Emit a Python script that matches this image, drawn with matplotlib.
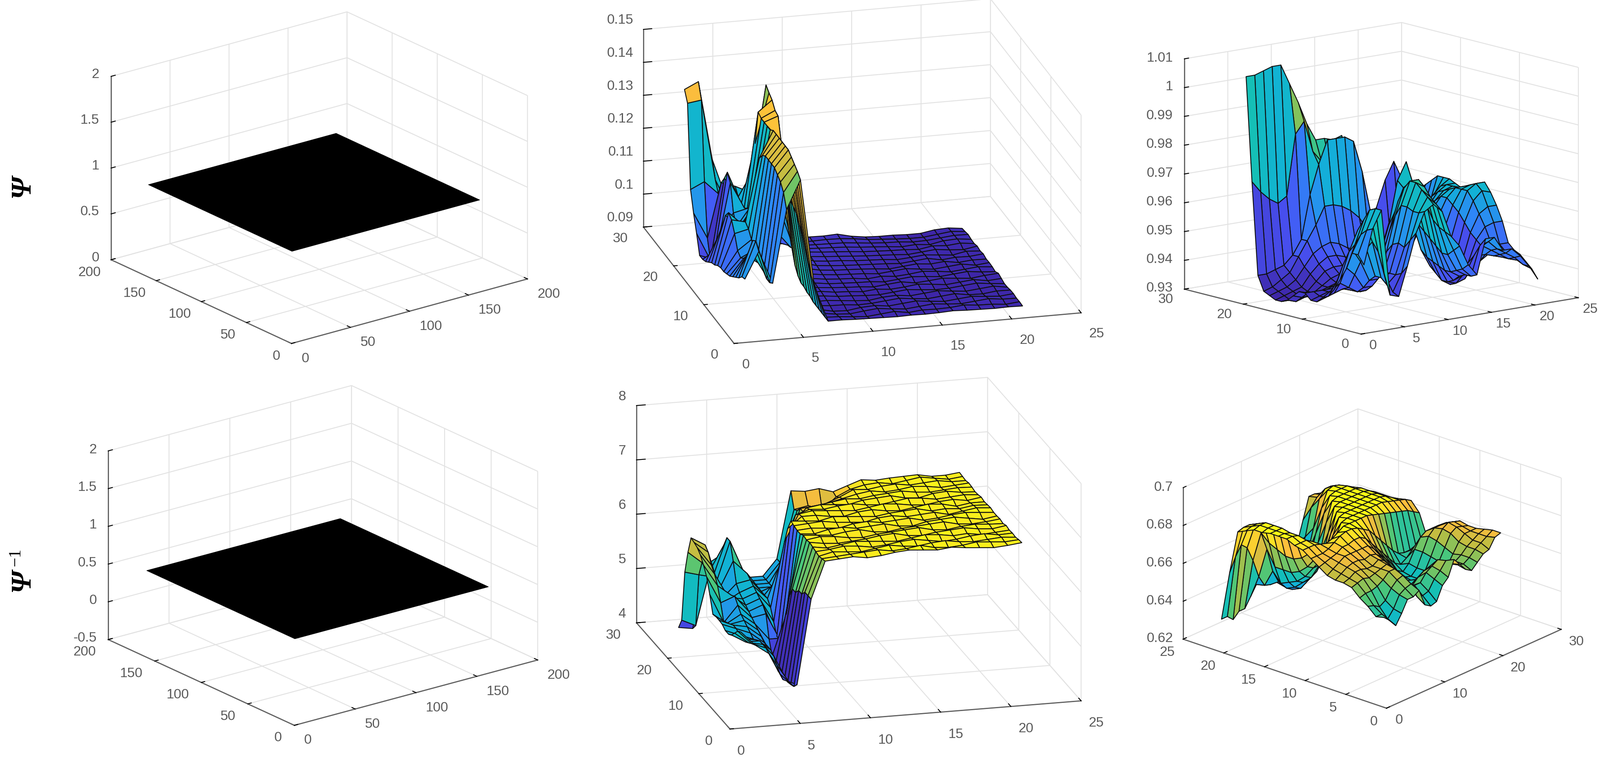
import numpy as np
import matplotlib
matplotlib.use('Agg')
import matplotlib.pyplot as plt
from matplotlib.colors import LinearSegmentedColormap
from matplotlib.transforms import Affine2D
from mpl_toolkits.mplot3d import proj3d

W, H = 3919, 1878
plt.rcParams['font.family'] = ['Liberation Sans', 'DejaVu Sans']

grid_x = list(range(1, 22))
grid_y = list(range(1, 22))
plane_edges = [1, 160]
plane1_z = 1.0
plane4_z = 0.64

# panel 2, units of 1e-4, one row per y = 1..21
z2 = [
[1080,1160,1060,1280,1366,1040,930,930,928,927,926,925,926,925,926,928,926,925,924,925,924],
[1075,1180,1050,1320,1380,1060,930,928,924,921,925,929,922,926,925,926,930,926,925,921,925],
[1060,1170,1050,1340,1390,1090,930,924,921,926,930,925,921,925,929,925,922,926,930,925,924],
[1050,1130,1060,1350,1400,1120,930,921,919,925,927,922,926,930,925,921,925,929,925,922,926],
[1040,1100,1070,1360,1410,1150,930,926,925,921,922,926,930,925,921,925,929,922,921,926,925],
[1030,1080,1080,1360,1410,1170,930,930,926,922,919,925,927,922,926,930,925,921,925,929,922],
[1025,1070,1090,1360,1410,1190,935,932,927,925,922,921,925,929,925,921,922,926,930,925,921],
[1020,1080,1110,1360,1410,1200,935,934,928,926,922,926,922,925,930,926,921,925,929,922,925],
[1020,1120,1130,1350,1410,1210,940,934,930,927,925,921,925,929,922,925,929,925,921,926,929],
[1015,1150,1140,1330,1410,1230,940,936,930,928,926,925,921,925,929,926,922,926,930,925,922],
[1005,1160,1120,1190,1400,1280,950,938,932,929,927,922,926,922,925,930,926,921,925,929,925],
[1000,1140,1100,1160,1400,1350,970,940,934,930,928,926,922,926,930,925,921,925,929,922,926],
[ 990,1100,1090,1146,1400,1415,1010,945,936,932,930,928,925,921,925,929,925,929,922,926,925],
[ 980,1060,1120,1130,1400,1420,1050,950,938,934,931,929,927,925,922,926,930,922,926,925,929],
[ 975,1000,1200,1120,1407,1440,1080,960,940,936,934,930,928,926,922,925,929,925,921,929,926],
[ 975, 960,1220,1120,1300,1450,1100,965,942,938,935,932,929,927,925,922,926,930,925,922,929],
[1030, 945,1190,1130,1200,1462,1080,960,944,940,937,934,930,928,926,925,922,929,926,930,925],
[1080,1000,1165,1150,1130,1300,1000,950,942,940,938,936,932,929,926,922,925,921,929,931,926],
[1140,1160,1120,1100,1050,1100, 960,945,940,939,938,937,933,929,926,925,921,922,926,930,929],
[1390,1396,1150,1060,1000,1000, 940,938,938,938,939,938,934,928,925,922,920,920,925,930,926],
[1420,1440,1200,1080,1000, 960, 935,935,935,939,938,940,930,924,922,922,920,920,927,929,924],
]

# panel 3, units of 1e-3
z3 = [
[953,965,971,941,940,950,961,968,970,967,958,954,947,943,955,955,950,950,947,943,938],
[956,964,971,948,941,947,958,967,972,969,959,952,945,942,952,953,950,948,946,943,941],
[956,962,970,955,943,946,955,967,974,971,960,950,944,942,948,951,949,947,945,944,943],
[950,958,966,958,945,946,956,968,976,974,962,950,943,941,945,947,947,946,945,945,945],
[946,955,962,955,945,946,955,968,976,976,966,952,943,939,940,942,944,946,946,946,946],
[942,950,955,950,943,943,952,964,973,975,968,954,944,938,937,938,942,948,949,948,948],
[939,944,948,945,940,940,948,958,968,972,968,956,945,938,936,937,942,950,954,955,955],
[938,940,942,940,938,938,942,950,960,966,966,958,946,940,937,937,942,952,958,960,960],
[936,937,938,939,938,937,938,942,950,958,962,958,948,942,938,938,944,955,962,965,964],
[936,937,938,938,938,938,937,938,942,950,958,960,955,948,943,942,948,958,965,967,967],
[938,938,938,938,938,938,938,937,938,945,955,962,962,958,952,948,952,960,965,966,965],
[938,937,937,937,938,938,938,938,938,942,950,960,968,970,960,952,956,962,965,965,963],
[936,935,935,936,937,938,939,939,938,940,945,955,970,976,965,955,958,962,964,964,963],
[934,933,934,935,937,939,940,940,939,939,941,948,958,966,960,952,956,960,963,964,963],
[933,933,934,935,938,941,942,942,941,940,940,942,948,955,952,948,952,958,962,964,964],
[933,934,935,936,940,943,945,945,944,942,941,942,945,948,946,944,948,954,960,963,965],
[934,935,936,938,942,946,948,949,948,946,945,945,946,945,942,940,942,948,955,960,965],
[935,936,938,940,945,950,955,961,961,960,958,955,950,945,940,938,938,942,948,955,965],
[940,940,941,942,945,950,965,975,983,983,983,981,970,955,942,938,938,940,945,952,963],
[972,968,965,963,965,986,990,979,975,974,973,972,960,950,945,942,942,945,950,955,961],
[1008,1008,1009,1010,1010,1003,996,988,982,982,981,982,974,962,951,955,964,970,963,959,959],
]

# panel 5, units of 1e-2
z5 = [
[570,544,526,476,465,620,688,690,692,688,690,694,696,694,692,695,692,690,688,690,693],
[565,540,530,480,455,620,686,688,690,692,694,690,692,696,690,688,690,694,692,690,692],
[555,535,530,490,452,620,684,690,688,686,690,694,690,688,692,694,690,688,690,692,690],
[545,530,530,500,450,610,686,688,692,690,686,688,692,694,690,686,688,692,694,690,691],
[540,530,525,505,450,610,688,684,688,692,690,688,686,690,694,692,688,690,686,688,690],
[540,530,520,505,450,600,690,686,684,686,688,692,694,688,686,690,692,694,690,688,692],
[545,535,525,505,450,600,688,692,690,686,684,688,690,692,694,688,686,690,692,690,689],
[546,535,530,510,455,580,690,688,686,690,692,686,684,688,690,692,694,688,686,688,691],
[546,530,535,515,465,540,686,684,690,692,688,690,692,686,684,690,692,694,690,686,690],
[544,525,540,520,490,490,686,688,686,684,690,692,688,690,692,686,688,692,694,692,690],
[574,520,550,525,530,480,688,690,692,688,686,684,690,692,688,690,692,686,690,694,692],
[600,550,560,530,540,480,690,688,686,692,690,688,686,690,692,694,688,690,688,692,691],
[615,575,555,535,545,500,670,690,690,686,684,690,692,688,686,690,694,692,686,690,690],
[627,590,545,540,550,520,640,688,692,690,688,686,690,694,692,688,686,690,692,688,692],
[634,600,530,545,555,530,600,680,688,686,690,692,688,686,690,694,692,688,690,692,690],
[637,617,530,555,560,530,560,660,684,688,686,684,690,692,694,688,686,692,694,690,689],
[639,624,540,590,565,530,540,630,670,680,684,688,686,690,692,694,690,688,690,692,691],
[606,585,545,620,560,530,530,600,670,672,676,682,688,692,688,690,694,692,688,690,692],
[563,556,550,620,555,530,530,570,660,665,668,678,690,688,692,694,690,692,694,690,690],
[468,456,555,600,550,530,530,560,655,660,650,672,684,690,692,688,692,696,692,688,691],
[448,444,560,575,545,530,530,560,683,680,683,675,684,693,690,692,693,694,689,689,692],
]

# panel 6, units of 1e-3
z6 = [
[665,662,658,663,669,669,671,662,660,661,668,671,679,675,671,669,672,675,676,681,682],
[664,664,660,664,670,672,673,665,664,665,670,673,677,674,672,671,673,676,678,680,682],
[668,667,665,667,672,675,676,670,668,668,672,674,676,673,671,671,673,676,678,680,681],
[671,672,672,673,675,678,678,674,668,665,668,670,671,668,665,667,672,677,680,680,680],
[675,676,677,676,677,678,679,676,670,664,662,664,665,664,664,668,674,680,682,681,680],
[676,677,679,679,678,678,680,678,674,668,665,662,660,660,663,669,676,681,683,682,681],
[676,678,680,681,681,680,681,680,677,672,668,664,661,660,663,670,677,680,680,680,679],
[677,679,681,683,683,683,683,683,680,676,672,668,663,661,664,670,675,677,677,677,676],
[680,681,682,683,685,685,686,686,684,680,676,672,668,664,662,664,667,669,670,670,670],
[683,683,683,684,686,688,689,689,688,686,684,680,676,672,668,665,664,664,665,666,666],
[686,686,686,685,684,685,687,689,689,689,689,689,688,687,686,685,684,683,682,680,678],
[687,687,687,685,681,678,678,682,688,689,689,689,689,689,689,689,688,687,686,685,683],
[689,689,688,684,676,672,670,672,680,688,689,689,689,689,689,689,689,688,686,684,682],
[689,689,688,682,672,666,664,664,668,678,688,689,689,689,689,689,689,688,686,683,680],
[689,689,689,682,670,662,658,656,658,664,676,688,689,689,689,689,689,688,686,682,679],
[688,689,689,684,670,660,654,652,652,656,664,678,688,689,689,689,689,688,685,681,679],
[688,689,689,686,672,660,652,648,646,648,654,666,680,688,689,689,689,687,684,680,678],
[686,687,687,686,674,660,650,646,644,644,648,656,668,680,688,689,688,686,683,680,678],
[684,685,685,684,678,668,655,648,644,642,642,648,656,668,682,686,686,684,681,679,677],
[661,668,673,670,662,652,646,645,645,646,648,650,654,662,676,680,680,680,679,677,676],
[635,635,632,635,635,640,645,646,646,646,647,647,650,657,668,679,679,678,678,676,675],
]

parula = LinearSegmentedColormap.from_list('parula', [
    (0.2422, 0.1504, 0.6603), (0.2810, 0.3228, 0.9579), (0.1786, 0.5289, 0.9682),
    (0.0689, 0.6948, 0.8394), (0.0704, 0.7457, 0.7258), (0.3, 0.78, 0.47),
    (0.72, 0.74, 0.26), (0.9956, 0.7406, 0.2394), (0.9769, 0.9839, 0.0805)])

TEXT = '#5a5a5a'
AXIS = '#5f5f5f'
GRID = '#e2e2e2'
TICK_PX = 9

fig = plt.figure(figsize=(W / 100, H / 100), dpi=100, facecolor='white')


def make_axes(front, right, left, top):
    """Build an orthographic 3D axes whose box corners land on given image pixels."""
    ex = (right[0] - front[0], front[1] - right[1])
    ey = (left[0] - front[0], front[1] - left[1])
    rx = ex[1] / ex[0]
    ry = ey[1] / ey[0]
    sin_e = np.sqrt(-rx * ry)
    e = np.arcsin(sin_e)
    a = -np.pi + np.arctan(np.sqrt(-ry / rx))
    Lx = ex[0] / -np.sin(a)
    Ly = ey[0] / np.cos(a)
    Lz = (left[1] - top[1]) / np.cos(e)
    ax = fig.add_axes([0.3, 0.3, 0.4 * H / W, 0.4], projection='3d', proj_type='ortho',
                      elev=np.degrees(e), azim=np.degrees(a))
    ax.set_box_aspect((Lx, Ly, Lz))
    return ax, np.hypot(*ex), np.hypot(*ey)


def to_px(ax, x, y, z):
    u, v, _w = proj3d.proj_transform(x, y, z, ax.get_proj())
    return ax.transData.transform((u, v))


def place(ax, front, right):
    xl, yl, zl = ax.get_xlim(), ax.get_ylim(), ax.get_zlim()
    for _ in range(3):
        p0 = to_px(ax, xl[0], yl[0], zl[0])
        p1 = to_px(ax, xl[1], yl[0], zl[0])
        s = np.hypot(right[0] - front[0], right[1] - front[1]) / np.hypot(*(p1 - p0))
        pos = ax.get_position()
        w = pos.width * W * s
        cx = (pos.x0 + pos.width / 2) * W
        cy = (pos.y0 + pos.height / 2) * H
        ocx, ocy = cx - p0[0], cy - p0[1]
        ncx = front[0] + ocx * s
        ncy = (H - front[1]) + ocy * s
        ax.set_position([(ncx - w / 2) / W, (ncy - w / 2) / H, w / W, w / H])
        ax.apply_aspect()


def style(ax, xt, yt, zt, zl, len_x, len_y):
    ax.set_xlim(xt[0], xt[-1])
    ax.set_ylim(yt[0], yt[-1])
    ax.set_zlim(zt[0], zt[-1])
    ax.set_xticks(xt)
    ax.set_yticks(yt)
    ax.set_zticks(zt)
    ax.set_xticklabels([str(t) for t in xt], fontsize=24, color=TEXT, ha='center', va='center')
    ax.set_yticklabels([str(t) for t in yt], fontsize=24, color=TEXT, ha='center', va='center')
    ax.set_zticklabels(zl, fontsize=24, color=TEXT, ha='right', va='center')
    ax.patch.set_alpha(0)
    # tick length is a share of the box edge the tick runs along
    factors = (TICK_PX * 12 / len_y, TICK_PX * 12 / len_x, TICK_PX * 12 / len_y)
    for axis, f in zip((ax.xaxis, ax.yaxis, ax.zaxis), factors):
        axis.set_pane_color((1, 1, 1, 0))
        axis.pane.set_edgecolor(GRID)
        axis.pane.set_linewidth(1.6)
        axis.line.set_color(AXIS)
        axis.line.set_linewidth(2.0)
        axis._axinfo['grid'].update(color=GRID, linewidth=1.6)
        axis._axinfo['tick'].update(inward_factor=0.0, outward_factor=f,
                                    linewidth={True: 1.6, False: 0.8}, color=AXIS)


def surf(ax, zvals, unit):
    X, Y = np.meshgrid(grid_x, grid_y)
    Z = np.array(zvals, float) * unit
    C = parula((Z - Z.min()) / (Z.max() - Z.min()))
    ax.plot_surface(X, Y, Z, facecolors=C, rstride=1, cstride=1, shade=False,
                    edgecolor='#101010', linewidth=1.6, antialiased=True)


def plane(ax, value):
    X, Y = np.meshgrid(plane_edges, plane_edges)
    ax.plot_surface(X, Y, np.full(X.shape, value), color='black', rstride=1, cstride=1,
                    shade=False, edgecolor='black', linewidth=1.0)


def set_offset(label, ax, dx, dy):
    label.get_transform = lambda a=ax, o=Affine2D().translate(dx, dy): a.transData + o


def align_labels(ax, xo, yo, zo, renderer):
    """Native tick labels are moved to the offsets measured on the image (y down there)."""
    xl, yl, zl = ax.get_xlim(), ax.get_ylim(), ax.get_zlim()
    for tick in ax.xaxis.get_major_ticks():
        lab = tick.label1
        bb = lab.get_window_extent(renderer)
        a = to_px(ax, tick.get_loc(), yl[0], zl[0])
        n = len(lab.get_text()) - 1
        set_offset(lab, ax, a[0] + xo[0] + xo[2] * n - (bb.x0 + bb.x1) / 2,
                   a[1] - xo[1] - (bb.y0 + bb.y1) / 2)
    for tick in ax.yaxis.get_major_ticks():
        lab = tick.label1
        bb = lab.get_window_extent(renderer)
        a = to_px(ax, xl[0], tick.get_loc(), zl[0])
        n = len(lab.get_text()) - 1
        set_offset(lab, ax, a[0] + yo[0] + yo[2] * n - (bb.x0 + bb.x1) / 2,
                   a[1] - yo[1] - (bb.y0 + bb.y1) / 2)
    for tick in ax.zaxis.get_major_ticks():
        lab = tick.label1
        bb = lab.get_window_extent(renderer)
        a = to_px(ax, xl[0], yl[1], tick.get_loc())
        set_offset(lab, ax, a[0] + zo[0] - bb.x1, a[1] - zo[1] - (bb.y0 + bb.y1) / 2)


t200 = [0, 50, 100, 150, 200]
t25 = [0, 5, 10, 15, 20, 25]
t30 = [0, 10, 20, 30]

panels = [
    dict(c=((714, 841), (1292, 683), (272, 636), (272, 187)), xt=t200, yt=t200,
         zt=[0, 0.5, 1, 1.5, 2], zl=['0', '0.5', '1', '1.5', '2'], plane=plane1_z,
         xo=(34, 37, 9), yo=(-37, 31, -8), zo=(-29, -5)),
    dict(c=((1798, 841), (2648, 766), (1576, 556), (1576, 72)), xt=t25, yt=t30,
         zt=[0.09, 0.10, 0.11, 0.12, 0.13, 0.14, 0.15],
         zl=['0.09', '0.1', '0.11', '0.12', '0.13', '0.14', '0.15'], z=z2, u=1e-4,
         xo=(29, 52, 9), yo=(-48, 29, -9), zo=(-24, -22)),
    dict(c=((3334, 818), (3866, 729), (2901, 708), (2901, 144)), xt=t25, yt=t30,
         zt=[0.93, 0.94, 0.95, 0.96, 0.97, 0.98, 0.99, 1.0, 1.01],
         zl=['0.93', '0.94', '0.95', '0.96', '0.97', '0.98', '0.99', '1', '1.01'], z=z3, u=1e-3,
         xo=(29, 29, 0), yo=(-39, 26, -7), zo=(-28, -2)),
    dict(c=((721, 1776), (1317, 1616), (265, 1566), (265, 1104)), xt=t200, yt=t200,
         zt=[-0.5, 0, 0.5, 1, 1.5, 2], zl=['-0.5', '0', '0.5', '1', '1.5', '2'], plane=plane4_z,
         xo=(33, 37, 9), yo=(-40, 31, -9), zo=(-28, -3)),
    dict(c=((1788, 1785), (2648, 1716), (1559, 1525), (1559, 993)), xt=t25, yt=t30,
         zt=[4, 5, 6, 7, 8], zl=['4', '5', '6', '7', '8'], z=z5, u=1e-2,
         xo=(27, 55, 10), yo=(-52, 31, -5), zo=(-26, -21)),
    dict(c=((3396, 1734), (3824, 1541), (2898, 1565), (2898, 1194)), xt=t30, yt=t25,
         zt=[0.62, 0.64, 0.66, 0.68, 0.70], zl=['0.62', '0.64', '0.66', '0.68', '0.7'], z=z6, u=1e-3,
         xo=(31, 30, 6), yo=(-31, 33, -8), zo=(-25, -1)),
]

axes_list = []
for p in panels:
    front, right, left, top = p['c']
    ax, len_x, len_y = make_axes(front, right, left, top)
    style(ax, p['xt'], p['yt'], p['zt'], p['zl'], len_x, len_y)
    if 'plane' in p:
        plane(ax, p['plane'])
    else:
        surf(ax, p['z'], p['u'])
    place(ax, front, right)
    axes_list.append(ax)

serif = dict(family='Liberation Serif', rotation=90, ha='center', va='center', color='black')
fig.text(55 / W, 1 - 456 / H, 'Ψ', fontsize=50, style='italic', weight='bold', **serif)
fig.text(55 / W, 1 - 1421 / H, 'Ψ', fontsize=50, style='italic', weight='bold', **serif)
fig.text(39 / W, 1 - 1364 / H, '−1', fontsize=30, **serif)

fig.canvas.draw()
renderer = fig.canvas.get_renderer()
for ax, p in zip(axes_list, panels):
    align_labels(ax, p['xo'], p['yo'], p['zo'], renderer)

fig.savefig('out.png', dpi=100)
